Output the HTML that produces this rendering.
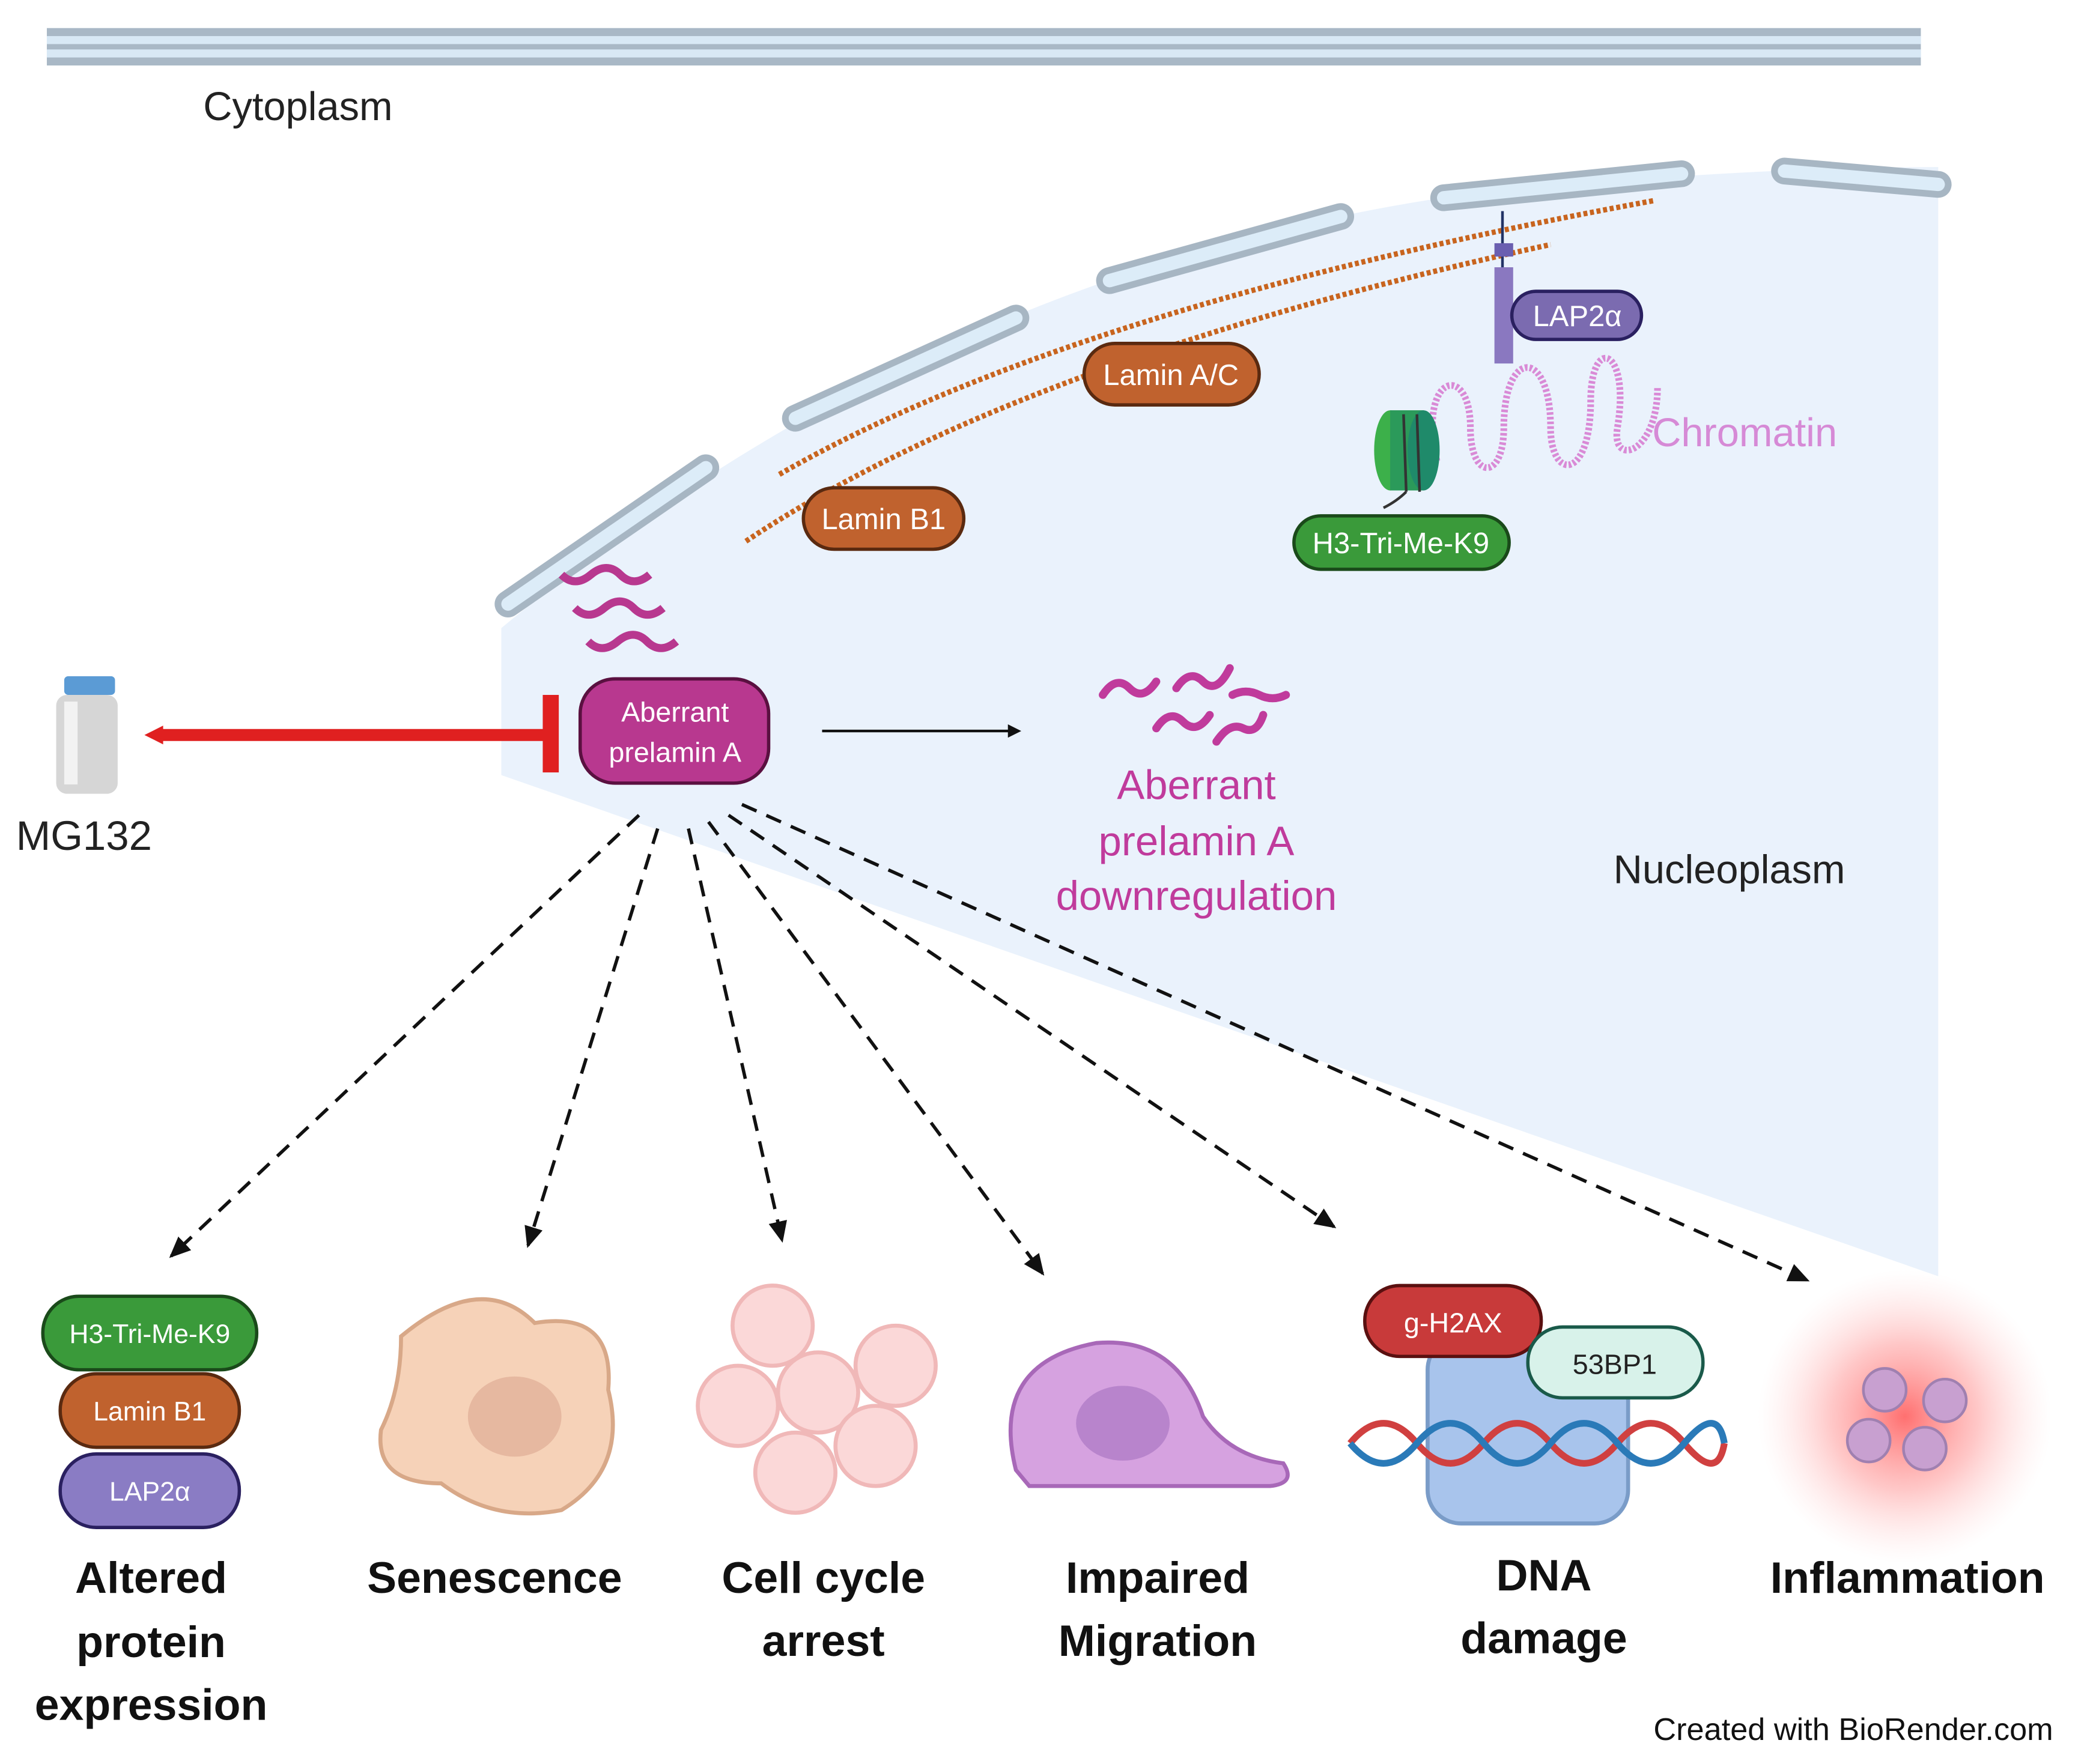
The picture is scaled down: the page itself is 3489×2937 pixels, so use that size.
<!DOCTYPE html>
<html><head><meta charset="utf-8"><style>
html,body{margin:0;padding:0;background:#fff;}
svg{display:block;}
text{font-family:"Liberation Sans",sans-serif;}
</style></head><body>
<svg width="3489" height="2937" viewBox="0 0 1568 1320" xmlns="http://www.w3.org/2000/svg">
<defs>
<marker id="ah" markerWidth="10" markerHeight="10" refX="8" refY="5" orient="auto" markerUnits="userSpaceOnUse" viewBox="0 0 10 10"><path d="M0,0 L10,5 L0,10 z" fill="#111"/></marker>
<marker id="ah2" markerWidth="16" markerHeight="16" refX="14" refY="8" orient="auto" markerUnits="userSpaceOnUse" viewBox="0 0 16 16"><path d="M0,1 L16,8 L0,15 z" fill="#111"/></marker>
<radialGradient id="inf" cx="50%" cy="50%" r="50%"><stop offset="0" stop-color="#ff6060" stop-opacity="0.9"/><stop offset="0.5" stop-color="#ff9090" stop-opacity="0.5"/><stop offset="1" stop-color="#ffd0d0" stop-opacity="0"/></radialGradient>
</defs>
<rect width="1568" height="1320" fill="#fff"/>
<rect x="35" y="21" width="1402" height="28" fill="#a9b8c6"/>
<rect x="35" y="27" width="1402" height="6" fill="#d8e8f5"/>
<rect x="35" y="37" width="1402" height="6" fill="#d8e8f5"/>
<text x="152" y="90" font-size="30" fill="#222">Cytoplasm</text>
<path d="M375,470 Q700,200 1100,145 Q1300,125 1450,125 L1450,955 L375,580 Z" fill="#eaf2fc"/>
<g stroke="#a7b6c3" stroke-width="20" stroke-linecap="round" fill="none">
<line x1="380" y1="452" x2="528" y2="350"/>
<line x1="595" y1="313" x2="760" y2="238"/>
<line x1="830" y1="210" x2="1003" y2="162"/>
<line x1="1080" y1="148" x2="1258" y2="130"/>
<line x1="1335" y1="128" x2="1450" y2="138"/>
</g>
<g stroke="#dcecf8" stroke-width="10" stroke-linecap="round" fill="none">
<line x1="380" y1="452" x2="528" y2="350"/>
<line x1="595" y1="313" x2="760" y2="238"/>
<line x1="830" y1="210" x2="1003" y2="162"/>
<line x1="1080" y1="148" x2="1258" y2="130"/>
<line x1="1335" y1="128" x2="1450" y2="138"/>
</g>
<g fill="none" stroke="#c8641e" stroke-width="4" stroke-dasharray="3 2">
<path d="M583,355 Q800,230 1238,150"/>
<path d="M558,405 Q760,270 1160,183"/>
</g>
<line x1="1124" y1="158" x2="1124" y2="200" stroke="#223366" stroke-width="2"/>
<rect x="1118" y="182" width="14" height="10" fill="#6a5fb0"/>
<rect x="1118" y="200" width="14" height="72" fill="#8a78c0"/>
<path d="M1075,345 C1060,280 1100,270 1100,320 C1100,360 1125,360 1125,320 C1125,260 1160,260 1160,320 C1160,360 1190,360 1190,300 C1190,250 1220,260 1210,320 C1205,350 1240,340 1240,290" fill="none" stroke="#d98ad6" stroke-width="5" stroke-dasharray="2 1.5"/>
<text x="1236" y="334" font-size="30" fill="#d68ad6">Chromatin</text>
<ellipse cx="1040" cy="337" rx="12" ry="30" fill="#3cb04a"/>
<rect x="1040" y="307" width="25" height="60" fill="#2b9a5a"/>
<ellipse cx="1065" cy="337" rx="12" ry="30" fill="#1f8a6a"/>
<path d="M1050,310 L1052,368 M1060,310 L1062,368 M1052,368 Q1045,375 1035,380" stroke="#333" stroke-width="2" fill="none"/>
<g font-size="22" fill="#fff" text-anchor="middle">
<rect x="811" y="257" width="131" height="46" rx="23" fill="#c0622e" stroke="#5a2a10" stroke-width="2.5"/><text x="876" y="288">Lamin A/C</text>
<rect x="601" y="365" width="120" height="46" rx="23" fill="#c0622e" stroke="#5a2a10" stroke-width="2.5"/><text x="661" y="396">Lamin B1</text>
<rect x="1131" y="218" width="97" height="36" rx="18" fill="#7b6bb0" stroke="#2a2060" stroke-width="2.5"/><text x="1180" y="244">LAP2α</text>
<rect x="968" y="386" width="161" height="40" rx="20" fill="#3a9a3a" stroke="#1a4a1a" stroke-width="2.5"/><text x="1048" y="414">H3-Tri-Me-K9</text>
</g>
<path d="M420,430 q10,10 22,0 t22,0 t22,0 M430,455 q10,10 22,0 t22,0 t22,0 M440,480 q10,10 22,0 t22,0 t22,0" fill="none" stroke="#b8388f" stroke-width="6"/>
<rect x="434" y="508" width="141" height="78" rx="26" fill="#b8388f" stroke="#5a1040" stroke-width="2.5"/>
<text x="505" y="540" font-size="21" fill="#fff" text-anchor="middle">Aberrant</text>
<text x="505" y="570" font-size="21" fill="#fff" text-anchor="middle">prelamin A</text>
<line x1="118" y1="550" x2="412" y2="550" stroke="#e02020" stroke-width="9"/>
<path d="M108,550 L122,543 L122,557 Z" fill="#e02020"/>
<rect x="406" y="520" width="12" height="58" fill="#e02020"/>
<rect x="48" y="506" width="38" height="14" rx="3" fill="#5b9bd5"/>
<rect x="42" y="520" width="46" height="74" rx="8" fill="#d6d6d6"/>
<rect x="48" y="525" width="10" height="62" fill="#f2f2f2"/>
<text x="12" y="636" font-size="31" fill="#222">MG132</text>
<line x1="615" y1="547" x2="762" y2="547" stroke="#111" stroke-width="2" marker-end="url(#ah)"/>
<g fill="none" stroke="#c03b9c" stroke-width="6" stroke-linecap="round">
<path d="M825,520 q10,-15 20,-5 t20,-5"/><path d="M880,515 q10,-15 20,-5 t20,-10"/><path d="M865,545 q10,-15 20,-5 t20,-5"/><path d="M910,555 q10,-15 20,-10 t15,-10"/><path d="M922,520 q10,-5 20,0 t20,0"/>
</g>
<g font-size="31" fill="#c03b9c" text-anchor="middle">
<text x="895" y="598">Aberrant</text><text x="895" y="640">prelamin A</text><text x="895" y="681">downregulation</text>
</g>
<text x="1207" y="661" font-size="30" fill="#222">Nucleoplasm</text>
<g stroke="#111" stroke-width="2.5" stroke-dasharray="12 8" fill="none" marker-end="url(#ah2)">
<line x1="478" y1="610" x2="128" y2="940"/>
<line x1="492" y1="620" x2="395" y2="932"/>
<line x1="515" y1="620" x2="585" y2="928"/>
<line x1="530" y1="615" x2="780" y2="953"/>
<line x1="545" y1="610" x2="998" y2="918"/>
<line x1="555" y1="602" x2="1352" y2="958"/>
</g>
<g font-size="20" fill="#fff" text-anchor="middle">
<rect x="32" y="970" width="160" height="55" rx="27" fill="#3a9a3a" stroke="#1a4a1a" stroke-width="2.5"/><text x="112" y="1005">H3-Tri-Me-K9</text>
<rect x="45" y="1028" width="134" height="55" rx="27" fill="#c0622e" stroke="#5a2a10" stroke-width="2.5"/><text x="112" y="1063">Lamin B1</text>
<rect x="45" y="1088" width="134" height="55" rx="27" fill="#8a7cc4" stroke="#2a2060" stroke-width="2.5"/><text x="112" y="1123">LAP2α</text>
</g>
<path d="M300,1000 Q360,950 400,990 Q460,980 455,1040 Q470,1100 420,1130 Q370,1140 330,1110 Q280,1110 285,1070 Q300,1040 300,1000 Z" fill="#f6d2b8" stroke="#d8a888" stroke-width="3"/>
<ellipse cx="385" cy="1060" rx="35" ry="30" fill="#e6b8a0"/>
<g fill="#fbd8d8" stroke="#f0b8b8" stroke-width="3">
<circle cx="578" cy="992" r="30"/><circle cx="552" cy="1052" r="30"/><circle cx="612" cy="1042" r="30"/><circle cx="670" cy="1022" r="30"/><circle cx="655" cy="1082" r="30"/><circle cx="595" cy="1102" r="30"/>
</g>
<path d="M760,1100 Q740,1020 820,1005 Q880,1000 900,1060 Q920,1090 960,1095 Q970,1110 950,1112 L770,1112 Z" fill="#d6a2e0" stroke="#a868b8" stroke-width="3"/>
<ellipse cx="840" cy="1065" rx="35" ry="28" fill="#b884cc"/>
<rect x="1068" y="1000" width="150" height="140" rx="25" fill="#a8c4ec" stroke="#7a9cc8" stroke-width="3"/>
<path d="M1010,1080 q25,-30 50,0 t50,0 t50,0 t50,0 t50,0 t30,0" fill="none" stroke="#d04040" stroke-width="5"/>
<path d="M1010,1080 q25,30 50,0 t50,0 t50,0 t50,0 t50,0 t30,0" fill="none" stroke="#2a7ab8" stroke-width="5"/>
<rect x="1021" y="962" width="132" height="53" rx="26" fill="#c83a3a" stroke="#5a1010" stroke-width="2.5"/><text x="1087" y="997" font-size="21" fill="#fff" text-anchor="middle">g-H2AX</text>
<rect x="1143" y="993" width="131" height="53" rx="26" fill="#d8f2ea" stroke="#1a5a4a" stroke-width="2.5"/><text x="1208" y="1028" font-size="21" fill="#222" text-anchor="middle">53BP1</text>
<circle cx="1425" cy="1060" r="110" fill="url(#inf)"/>
<g fill="#c8a0d0" stroke="#a080b0" stroke-width="2"><circle cx="1410" cy="1040" r="16"/><circle cx="1455" cy="1048" r="16"/><circle cx="1398" cy="1078" r="16"/><circle cx="1440" cy="1084" r="16"/></g>
<g font-size="33" font-weight="bold" fill="#111" text-anchor="middle">
<text x="113" y="1192">Altered</text><text x="113" y="1240">protein</text><text x="113" y="1287">expression</text>
<text x="370" y="1192">Senescence</text>
<text x="616" y="1192">Cell cycle</text><text x="616" y="1239">arrest</text>
<text x="866" y="1192">Impaired</text><text x="866" y="1239">Migration</text>
<text x="1155" y="1190">DNA</text><text x="1155" y="1237">damage</text>
<text x="1427" y="1192">Inflammation</text>
</g>
<text x="1237" y="1302" font-size="23.5" fill="#111">Created with BioRender.com</text>
</svg>
</body></html>
